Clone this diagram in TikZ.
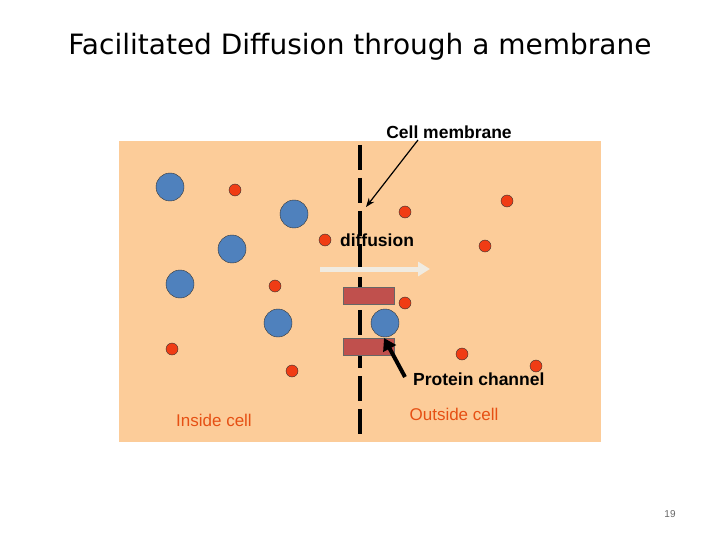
\documentclass[tikz,border=0pt]{standalone}
\usetikzlibrary{arrows.meta}
\usepackage{fontspec}
\setmainfont{Liberation Sans}
\newfontfamily\titlefont{DejaVu Sans}
\definecolor{cellbg}{RGB}{252,204,153}
\definecolor{dotred}{RGB}{240,60,20}
\definecolor{ballblue}{RGB}{79,129,189}
\definecolor{chanred}{RGB}{192,80,77}
\definecolor{labred}{RGB}{230,80,20}
\definecolor{flow}{RGB}{240,235,225}
\begin{document}
\begin{tikzpicture}[x=1pt,y=-1pt,
    small/.style={circle, draw=black!80, fill=dotred, minimum size=12pt, inner sep=0pt},
    big/.style={circle, draw=black!80, fill=ballblue, minimum size=28pt, inner sep=0pt},
    channel/.style={draw=black!60, fill=chanred, minimum width=51pt, minimum height=17pt, inner sep=0pt},
    lbl/.style={font=\fontsize{17}{19}\selectfont, inner sep=0pt},
    blbl/.style={font=\bfseries\fontsize{17.5}{19}\selectfont, inner sep=0pt}]
    \useasboundingbox (0,0) rectangle (720,540);
    \fill[cellbg] (119,141) rectangle (601,442);
    \node[font=\titlefont\fontsize{28}{32}\selectfont] (title) at (360,47) {Facilitated Diffusion through a membrane};

    % membrane
    \coordinate (mtop) at (360,145);
    \coordinate (mbot) at (360,440);
    \draw[line width=4pt, dash pattern=on 25pt off 8pt] (mtop) -- (mbot);

    % molecules
    \foreach \x/\y [count=\n] in {235/190,405/212,507/201,325/240,485/246,275/286,405/303,172/349,462/354,536/366,292/371}
        \node[small] (s\n) at (\x,\y) {};
    \foreach \x/\y [count=\n] in {170/187,294/214,232/249,180/284,278/323}
        \node[big] (b\n) at (\x,\y) {};

    % protein channel
    \node[channel] (ch1) at (368.5,295.5) {};
    \node[channel] (ch2) at (368.5,346.5) {};
    \node[big] (b6) at (385,323) {};

    % flow
    \coordinate (fl1) at (320,269);
    \coordinate (fl2) at (430,269);
    \draw[flow, line width=5pt, -{Triangle[length=12pt,width=14pt]}] (fl1) -- (fl2);

    % labels
    \node[blbl, anchor=south] (cm) at (449,139) {Cell membrane};
    \node[blbl] (df) at (377,240) {diffusion};
    \node[blbl, anchor=north west] (pc) at (413,373) {Protein channel};
    \node[lbl, text=labred] (ic) at (214,420) {Inside cell};
    \node[lbl, text=labred] (oc) at (454,414) {Outside cell};
    \node[font=\fontsize{10}{12}\selectfont, text=black!60] (pg) at (670,514) {19};

    \coordinate (cmtip) at (366,207);
    \draw[line width=1.2pt, -{Stealth[length=9pt]}] (418,140) -- (cmtip);
    \coordinate (pctip) at (384,338);
    \draw[line width=4pt, -{Triangle[length=12pt,width=14pt]}] (405,377) -- (pctip);
\end{tikzpicture}
\end{document}
